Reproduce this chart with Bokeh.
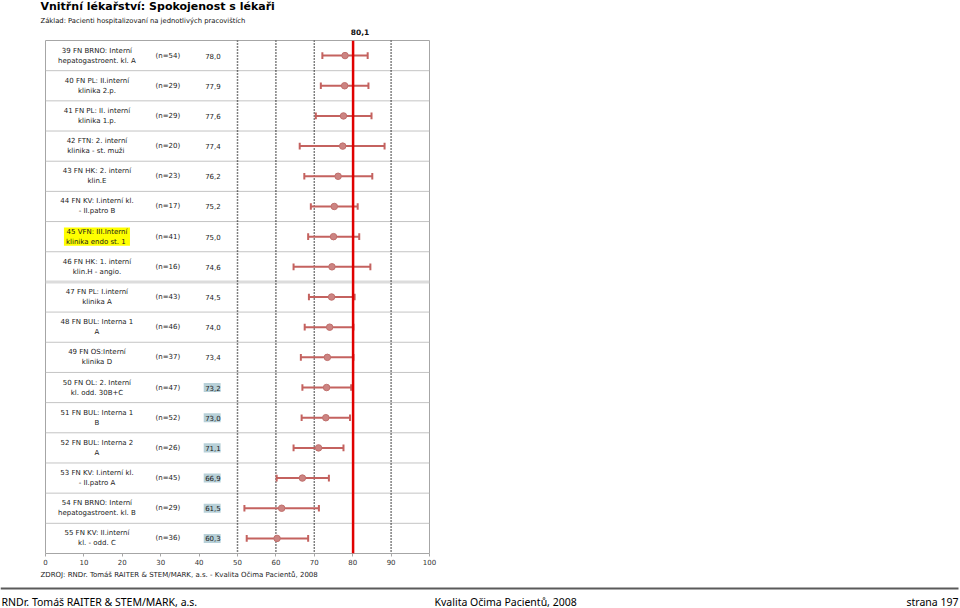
from bokeh.plotting import figure
from bokeh.models import Range1d, FixedTicker, Span
from bokeh.layouts import column
from bokeh.embed import file_html
from bokeh.resources import INLINE
from bokeh.core.properties import value

# ---------------- data ----------------
departments = [
    "39 FN BRNO: Interní\nhepatogastroent. kl. A",
    "40 FN PL: II.interní\nklinika 2.p.",
    "41 FN PL: II. interní\nklinika 1.p.",
    "42 FTN: 2. interní\nklinika - st.  muži",
    "43 FN HK: 2. interní\nklin.E",
    "44 FN KV: I.interní kl.\n- II.patro B",
    "45 VFN: III.Interní\nklinika  endo st. 1",
    "46 FN HK: 1. interní\nklin.H - angio.",
    "47 FN PL: I.interní\nklinika A",
    "48 FN BUL: Interna 1\nA",
    "49 FN OS:Interní\nklinika D",
    "50 FN OL: 2. Interní\nkl. odd. 30B+C",
    "51 FN BUL: Interna 1\nB",
    "52 FN BUL: Interna 2\nA",
    "53 FN KV: I.interní kl.\n- II.patro A",
    "54 FN BRNO: Interní\nhepatogastroent. kl. B",
    "55 FN KV: II.interní\nkl. - odd. C",
]
n_sizes = [54, 29, 29, 20, 23, 17, 41, 16, 43, 46, 37, 47, 52, 26, 45, 29, 36]
means = [78.0, 77.9, 77.6, 77.4, 76.2, 75.2, 75.0, 74.6, 74.5, 74.0, 73.4, 73.2, 73.0, 71.1, 66.9, 61.5, 60.3]
ci_low = [72.1, 71.7, 70.4, 66.2, 67.4, 69.1, 68.4, 64.6, 68.6, 67.5, 66.5, 66.9, 66.7, 64.6, 60.2, 51.8, 52.4]
ci_high = [83.9, 84.1, 84.9, 88.3, 85.1, 81.3, 81.7, 84.6, 80.5, 80.2, 80.2, 79.6, 79.3, 77.6, 73.8, 71.2, 68.4]
below_benchmark = [False] * 11 + [True] * 6
featured_department = "45 VFN: III.Interní\nklinika  endo st. 1"
benchmark = 80.1
x_ticks = [0, 10, 20, 30, 40, 50, 60, 70, 80, 90, 100]
reference_lines = [50, 60, 70, 90]

title_text = "Vnitřní lékařství: Spokojenost s lékaři"
subtitle_text = "Základ: Pacienti hospitalizovaní na jednotlivých pracovištích"
source_text = "ZDROJ: RNDr. Tomáš RAITER & STEM/MARK, a.s. -  Kvalita Očima Pacientů, 2008"
footer_left = "RNDr. Tomáš RAITER & STEM/MARK, a.s."
footer_mid = "Kvalita Očima Pacientů, 2008"
footer_right = "strana 197"

# ---------------- layout ----------------
W = 960
HEAD_H = 40
MAIN_H = 528
FOOT_H = 608 - HEAD_H - MAIN_H
ML, FW, FH = 45, 384, 513
MR = W - ML - FW
nrows = len(departments)
FONT = value("DejaVu Sans")
PXU = FW / 100.0

rows = list(range(nrows))
labels_n = [f"(n={n})" for n in n_sizes]
labels_v = [f"{m:.1f}".replace(".", ",") for m in means]


def deco_figure(h):
    f = figure(width=W, height=h, output_backend="svg", toolbar_location=None,
               x_range=Range1d(0, W), y_range=Range1d(h, 0),
               x_axis_location=None, y_axis_location=None,
               min_border=0, min_border_left=0, min_border_right=0,
               min_border_top=0, min_border_bottom=0, frame_align=False,
               background_fill_color="white", border_fill_color="white")
    f.outline_line_color = None
    f.xgrid.visible = False
    f.ygrid.visible = False
    return f


# ---- header ----
head = deco_figure(HEAD_H)
head.text(x=[40], y=[6], text=[title_text], text_align="left", text_baseline="middle",
          text_font=FONT, text_font_style="bold", text_font_size="11px", text_color="#000000")
head.text(x=[40], y=[20], text=[subtitle_text], text_align="left", text_baseline="middle",
          text_font=FONT, text_font_size="6.8px", text_color="#111111")
head.text(x=[ML + benchmark * PXU + 7], y=[31], text=[f"{benchmark:.1f}".replace(".", ",")],
          text_align="center", text_baseline="middle", text_font=FONT,
          text_font_style="bold", text_font_size="7.5px", text_color="#111111")

# ---- main chart ----
p = figure(width=W, height=MAIN_H, output_backend="svg", toolbar_location=None,
           x_range=Range1d(0, 100), y_range=Range1d(nrows - 0.5, -0.5),
           y_axis_location=None, x_axis_location="below", frame_align=False,
           min_border_left=ML, min_border_right=MR, min_border_top=0,
           min_border_bottom=MAIN_H - FH,
           background_fill_color="white", border_fill_color="white")
p.xgrid.visible = False
p.ygrid.visible = False
p.outline_line_color = "#a6a6a6"
p.outline_line_width = 1

p.xaxis.ticker = FixedTicker(ticks=x_ticks)
p.xaxis.axis_line_color = None
p.xaxis.major_tick_line_color = "#a6a6a6"
p.xaxis.major_tick_in = 0
p.xaxis.major_tick_out = 3
p.xaxis.minor_tick_line_color = None
p.xaxis.major_label_text_font = "DejaVu Sans"
p.xaxis.major_label_text_font_size = "7px"
p.xaxis.major_label_text_color = "#333333"
p.xaxis.major_label_standoff = 2

for i in range(nrows - 1):
    thick = (i == 7)
    p.add_layout(Span(location=i + 0.5, dimension="width",
                      line_color="#dcdcdc" if thick else "#c4c4c4",
                      line_width=3 if thick else 1, level="underlay"))

for v in reference_lines:
    p.add_layout(Span(location=v, dimension="height", line_color="black",
                      line_dash="1 2", line_width=1.5, level="underlay"))

feat_idx = departments.index(featured_department)
p.rect(x=13.4, y=[feat_idx], width=17.2, height=0.6, fill_color="#ffff00", line_color=None)
hl_rows = [r for r, b in zip(rows, below_benchmark) if b]
p.rect(x=43.4, y=hl_rows, width=4.4, height=0.3, fill_color="#b7d0d8", line_color=None)

p.text(x=13.4, y=rows, text=departments, text_align="center", text_baseline="middle",
       text_font=FONT, text_font_size="7px", text_line_height=1.25, text_color="#1a1a1a")
p.text(x=31.85, y=rows, text=labels_n, text_align="center", text_baseline="middle",
       text_font=FONT, text_font_size="7px", text_color="#1a1a1a")
p.text(x=43.6, y=rows, text=labels_v, text_align="center", text_baseline="middle",
       text_font=FONT, text_font_size="7px", text_color="#1a1a1a")

bar_col = "#c4625f"
p.segment(x0=ci_low, x1=ci_high, y0=rows, y1=rows, line_color=bar_col, line_width=2)
p.segment(x0=ci_low, x1=ci_low, y0=[r - 0.11 for r in rows], y1=[r + 0.11 for r in rows],
          line_color=bar_col, line_width=2)
p.segment(x0=ci_high, x1=ci_high, y0=[r - 0.11 for r in rows], y1=[r + 0.11 for r in rows],
          line_color=bar_col, line_width=2)
p.scatter(x=means, y=rows, size=6.5, fill_color="#cc8482", line_color="#c0706d")

p.add_layout(Span(location=benchmark, dimension="height", line_color="#e00000", line_width=2.5))

# ---- footer ----
foot = deco_figure(FOOT_H)
y0 = HEAD_H + MAIN_H
foot.text(x=[40], y=[574 - y0], text=[source_text], text_align="left", text_baseline="middle",
          text_font=FONT, text_font_size="7px", text_color="#222222")
foot.segment(x0=[0], x1=[958], y0=[588 - y0], y1=[588 - y0], line_color="#5a5a5a", line_width=2)
for tx, al, txt in [(1, "left", footer_left), (434, "left", footer_mid), (958, "right", footer_right)]:
    foot.text(x=[tx], y=[601 - y0], text=[txt], text_align=al, text_baseline="middle",
              text_font=value("Noto Sans"), text_font_size="10.5px", text_color="#000000")

layout = column(head, p, foot, spacing=0)
open("out.html", "w").write(file_html(layout, INLINE))
